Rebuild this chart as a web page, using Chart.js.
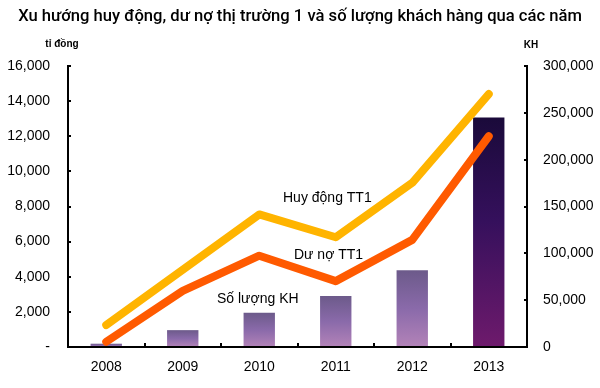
<!DOCTYPE html>
<html><head><meta charset="utf-8">
<script src="https://cdn.jsdelivr.net/npm/chart.js@4/dist/chart.umd.min.js"></script>
<style>html,body{margin:0;padding:0;background:#fff}#wrap{width:600px;height:388px;position:relative}</style>
</head><body><div id="wrap"><canvas id="c" width="600" height="388"></canvas></div>
<script>
const years = ['2008','2009','2010','2011','2012','2013'];
const huyDong = [1250, 4400, 7550, 6250, 9350, 14400];
const duNo = [300, 3200, 5200, 3750, 6100, 12000];
const soLuongKH = [3500, 18000, 36500, 54500, 82000, 245000];
const leftTicks = [0, 2000, 4000, 6000, 8000, 10000, 12000, 14000, 16000];
const rightTicks = [0, 50000, 100000, 150000, 200000, 250000, 300000];
const titleText = 'Xu hướng huy động, dư nợ thị trường 1 và số lượng khách hàng qua các năm';
const labels = {huy: 'Huy động TT1', duno: 'Dư nợ TT1', kh: 'Số lượng KH', left: 'tỉ đồng', right: 'KH'};

const fmt = v => v.toLocaleString('en-US');

function barGrad(ctx) {
  const chart = ctx.chart;
  const s = chart.scales && chart.scales.yR;
  if (!s || !chart.chartArea || ctx.type !== 'data') return '#8a6aa8';
  const top = s.getPixelForValue(ctx.raw);
  const bot = s.getPixelForValue(0);
  const g = chart.ctx.createLinearGradient(0, top, 0, bot);
  if (ctx.dataIndex === years.length - 1) {
    g.addColorStop(0, '#1a0a3a');
    g.addColorStop(0.45, '#35105c');
    g.addColorStop(1, '#6e1a6c');
  } else {
    g.addColorStop(0, '#6c5a8a');
    g.addColorStop(0.5, '#8a6aaa');
    g.addColorStop(1, '#b383b8');
  }
  return g;
}

const deco = {
  id: 'deco',
  afterDraw(chart) {
    const c = chart.ctx, a = chart.chartArea;
    const x = chart.scales.x, yL = chart.scales.yL, yR = chart.scales.yR;
    c.save();
    c.strokeStyle = '#000'; c.lineWidth = 2;
    c.beginPath();
    c.moveTo(a.left, a.top - 1); c.lineTo(a.left, a.bottom);
    c.lineTo(a.right, a.bottom); c.lineTo(a.right, a.top - 1);
    c.stroke();
    c.lineWidth = 2;
    leftTicks.forEach(v => { if (!v) return; const y = Math.round(yL.getPixelForValue(v)); c.beginPath(); c.moveTo(a.left, y); c.lineTo(a.left + 3, y); c.stroke(); });
    rightTicks.forEach(v => { if (!v) return; const y = Math.round(yR.getPixelForValue(v)); c.beginPath(); c.moveTo(a.right, y); c.lineTo(a.right - 3, y); c.stroke(); });
    for (let i = 1; i < years.length; i++) {
      const xx = Math.round((x.getPixelForValue(i - 1) + x.getPixelForValue(i)) / 2);
      c.beginPath(); c.moveTo(xx, a.bottom); c.lineTo(xx, a.bottom - 4); c.stroke();
    }
    c.fillStyle = '#000';
    c.textBaseline = 'middle';
    c.textAlign = 'center';
    c.font = '500 16.6px Roboto';
    c.fillText(titleText, 300, 17);
    c.font = 'bold 10px "Liberation Sans"';
    c.fillText(labels.left, 62, 44);
    c.fillText(labels.right, 531, 45);
    c.textAlign = 'left';
    c.font = '14px "Liberation Sans"';
    c.fillText(labels.huy, 283, 198);
    c.fillText(labels.duno, 294, 255);
    c.fillText(labels.kh, 217, 299);
    c.restore();
  }
};

new Chart(document.getElementById('c'), {
  data: {
    labels: years,
    datasets: [
      {type: 'line', label: labels.huy, data: huyDong, yAxisID: 'yL', borderColor: '#ffb400', borderWidth: 8, borderCapStyle: 'round', borderJoinStyle: 'round', pointRadius: 0, tension: 0, order: 1},
      {type: 'line', label: labels.duno, data: duNo, yAxisID: 'yL', borderColor: '#ff5a00', borderWidth: 8, borderCapStyle: 'round', borderJoinStyle: 'round', pointRadius: 0, tension: 0, order: 0},
      {type: 'bar', label: labels.kh, data: soLuongKH, yAxisID: 'yR', backgroundColor: barGrad, borderWidth: 0, categoryPercentage: 1, barPercentage: 0.41, order: 2}
    ]
  },
  options: {
    responsive: false, animation: false, devicePixelRatio: 1,
    layout: {padding: {top: 66, left: 0, right: 0, bottom: 0}},
    plugins: {legend: {display: false}, title: {display: false}, tooltip: {enabled: false}},
    scales: {
      x: {offset: true, grid: {display: false, drawTicks: false}, border: {display: false},
          ticks: {padding: 12, color: '#000', font: {family: 'Liberation Sans', size: 14}},
          afterFit(s) { s.height = 41; }},
      yL: {position: 'left', min: 0, max: 16000, grid: {display: false, drawTicks: false}, border: {display: false},
           afterBuildTicks(s) { s.ticks = leftTicks.map(v => ({value: v})); },
           ticks: {padding: 18, color: '#000', font: {family: 'Liberation Sans', size: 14}, callback: v => v === 0 ? '-' : fmt(v)},
           afterFit(s) { s.width = 68; }},
      yR: {position: 'right', min: 0, max: 300000, grid: {display: false, drawTicks: false}, border: {display: false},
           afterBuildTicks(s) { s.ticks = rightTicks.map(v => ({value: v})); },
           ticks: {padding: 16, color: '#000', font: {family: 'Liberation Sans', size: 14}, callback: v => fmt(v)},
           afterFit(s) { s.width = 73; }}
    }
  },
  plugins: [deco]
});
</script></body></html>
